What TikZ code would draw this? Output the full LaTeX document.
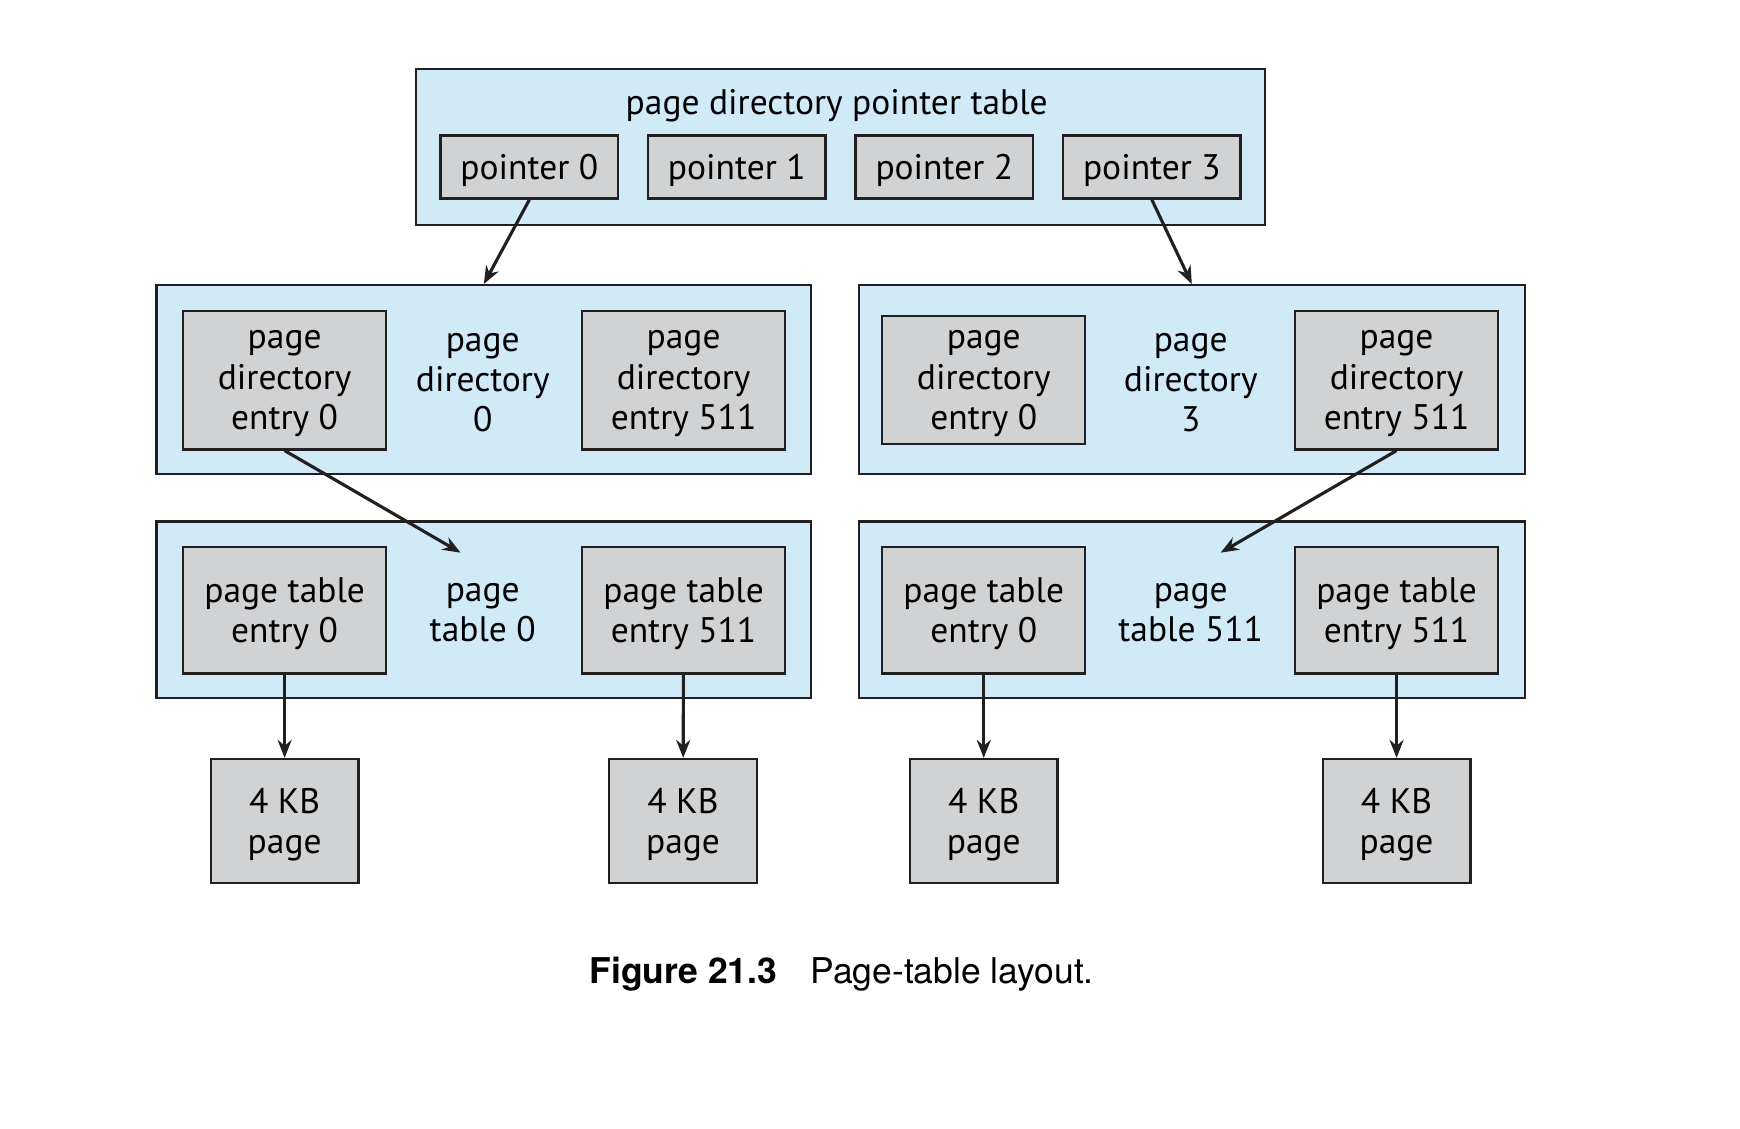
\documentclass[tikz,border=0pt]{standalone}
\usepackage{fontspec}
\setmainfont{PT Sans}
\newfontfamily\capfont{TeX Gyre Heros}
\usetikzlibrary{arrows.meta}
\definecolor{tblblue}{HTML}{D0EAF7}
\definecolor{entgray}{HTML}{D1D2D4}
\definecolor{ink}{HTML}{231F20}
\begin{document}
\begin{tikzpicture}[thick,>={Stealth[length=4.6pt,width=3.6pt]},font=\fontsize{9.1}{10.3}\selectfont,table/.style ={rectangle, draw=ink, semithick, fill=tblblue, inner sep=0pt}, entry/.style ={rectangle, draw=ink, semithick, fill=entgray, align=center, inner sep=0pt, text depth=-0.6pt, minimum width=1.83cm, minimum height=1.25cm}, ptr/.style ={entry, minimum width=1.6cm, minimum height=0.57cm}, page/.style ={entry, minimum width=1.33cm, minimum height=1.12cm}, lbl/.style ={align=center, inner sep=0pt}, link/.style ={->, draw=ink, thick}]
\useasboundingbox (0,0) rectangle (15.68,-10.165);
% page directory pointer table
\draw (7.575,-1.325) node[table, minimum width=7.65cm, minimum height=1.41cm] (PDPT) {};
\draw (7.54,-0.95) node[lbl] (PDPTl) {page directory pointer table};
\draw (4.77,-1.505) node[ptr] (P0) {pointer 0};
\draw (6.64,-1.505) node[ptr] (P1) {pointer 1};
\draw (8.51,-1.505) node[ptr] (P2) {pointer 2};
\draw (10.38,-1.505) node[ptr] (P3) {pointer 3};
% page directories
\draw (4.36,-3.42) node[table, minimum width=5.9cm, minimum height=1.7cm] (PD0) {};
\draw (10.74,-3.42) node[table, minimum width=6cm, minimum height=1.7cm] (PD3) {};
\draw (2.565,-3.425) node[entry] (PD0e0) {page\\directory\\entry 0};
\draw (4.35,-3.45) node[lbl] (PD0l) {page\\directory\\0};
\draw (6.16,-3.425) node[entry] (PD0e511) {page\\directory\\entry 511};
\draw (8.865,-3.425) node[entry, minimum height=1.15cm] (PD3e0) {page\\directory\\entry 0};
\draw (10.73,-3.45) node[lbl] (PD3l) {page\\directory\\3};
\draw (12.585,-3.425) node[entry] (PD3e511) {page\\directory\\entry 511};
% page tables
\draw (4.36,-5.495) node[table, minimum width=5.9cm, minimum height=1.59cm] (PT0) {};
\draw (10.74,-5.495) node[table, minimum width=6cm, minimum height=1.59cm] (PT511) {};
\draw (2.565,-5.5) node[entry, minimum height=1.14cm] (PT0e0) {page table\\entry 0};
\draw (4.35,-5.52) node[lbl] (PT0l) {page\\table 0};
\draw (6.16,-5.5) node[entry, minimum height=1.14cm] (PT0e511) {page table\\entry 511};
\draw (8.865,-5.5) node[entry, minimum height=1.14cm] (PT511e0) {page table\\entry 0};
\draw (10.73,-5.52) node[lbl] (PT511l) {page\\table 511};
\draw (12.585,-5.5) node[entry, minimum height=1.14cm] (PT511e511) {page table\\entry 511};
% 4 KB pages
\draw (2.565,-7.4) node[page] (K0) {4 KB\\page};
\draw (6.155,-7.4) node[page] (K1) {4 KB\\page};
\draw (8.865,-7.4) node[page] (K2) {4 KB\\page};
\draw (12.585,-7.4) node[page] (K3) {4 KB\\page};
\coordinate (T0) at (4.15,-4.98);
\coordinate (T511) at (11.0,-4.98);
\draw[link] (P0.south)--(PD0.north);
\draw[link] (P3.south)--(PD3.north);
\draw[link] (PD0e0.south)--(T0);
\draw[link] (PD3e511.south)--(T511);
\draw[link] (PT0e0)--(K0);
\draw[link] (PT0e511)--(K1);
\draw[link] (PT511e0)--(K2);
\draw[link] (PT511e511)--(K3);
% caption
\draw (7.585,-8.78) node[lbl, font=\capfont\fontsize{9.1}{11}\selectfont] (cap) {\textbf{Figure 21.3}\hspace{0.3cm}Page-table layout.};
\end{tikzpicture}
\end{document}
